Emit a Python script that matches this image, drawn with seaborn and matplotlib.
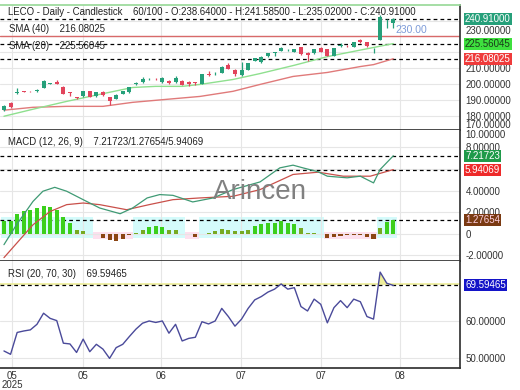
import matplotlib
matplotlib.use("Agg")
import matplotlib.pyplot as plt
import matplotlib.transforms as mtransforms
import seaborn as sns
import numpy as np


# --- price candles (60 daily bars) ---
opens = [184.0, 188.2, 194.5, 195.8, 195.5, 195.6, 197.7, 200.5, 201.7, 198.7,
         195.2, 191.8, 192.6, 195.6, 192.6, 195.0, 192.2, 191.0, 194.0, 195.0,
         200.5, 201.3, 203.1, 203.4, 201.3, 202.1, 201.3, 202.3, 201.7, 201.5,
         200.3, 206.8, 207.0, 207.2, 212.4, 209.2, 205.8, 209.2, 214.8, 213.8,
         217.5, 219.8, 220.9, 221.4, 220.5, 223.3, 219.9, 219.5, 222.5, 221.9,
         217.9, 224.2, 224.3, 223.5, 228.0, 226.4, 222.1, 228.0, 239.5, 238.64]
highs = [187.0, 188.8, 198.0, 196.0, 195.8, 197.0, 202.8, 201.2, 202.7, 199.0,
         195.4, 192.0, 196.2, 195.8, 195.4, 196.0, 192.4, 194.0, 196.0, 198.6,
         201.8, 204.4, 204.0, 204.0, 204.4, 202.6, 205.2, 202.6, 202.0, 201.8,
         206.8, 208.5, 208.0, 211.5, 213.6, 209.4, 213.8, 213.5, 216.8, 217.6,
         219.8, 220.0, 223.2, 222.2, 222.2, 223.6, 220.2, 222.2, 223.3, 222.2,
         222.8, 225.8, 224.6, 226.7, 228.4, 226.7, 222.5, 243.5, 240.8, 241.585]
lows = [183.5, 185.2, 194.0, 195.2, 195.0, 195.4, 197.5, 200.2, 200.0, 193.8,
        192.6, 191.2, 192.4, 191.9, 192.4, 193.0, 187.2, 190.6, 193.8, 194.8,
        199.8, 201.0, 202.5, 202.8, 201.0, 200.5, 201.0, 199.5, 199.2, 199.5,
        200.0, 205.0, 206.2, 207.0, 209.5, 205.2, 205.5, 209.0, 214.5, 213.5,
        217.2, 217.5, 220.7, 221.0, 220.3, 218.7, 214.8, 219.3, 220.3, 217.7,
        217.7, 223.5, 223.6, 223.3, 226.2, 223.7, 219.9, 228.0, 235.2, 235.02]
closes = [186.5, 185.6, 195.0, 195.4, 195.2, 196.7, 202.3, 200.9, 200.3, 194.0,
          194.8, 191.5, 195.6, 192.2, 195.0, 193.3, 189.6, 193.6, 195.6, 198.3,
          200.8, 203.2, 203.4, 203.2, 203.8, 200.8, 203.8, 199.7, 200.1, 200.6,
          206.4, 205.8, 207.3, 211.2, 209.8, 206.4, 209.2, 213.2, 216.5, 217.3,
          219.5, 219.9, 222.9, 221.7, 221.9, 218.9, 218.5, 221.9, 220.5, 217.9,
          222.5, 224.8, 223.9, 226.4, 226.4, 224.0, 222.3, 242.0, 239.9, 240.91]

# moving averages, read at a few bar positions
sma20_x = [0, 4.4, 9.5, 14.5, 19.5, 23, 27, 29.7, 34.7, 38.8, 44, 49, 54, 59]
sma20_y = [180.1, 184.5, 189.4, 193.8, 198.1, 198.8, 198.8, 200.0, 203.1, 206.8,
           212.0, 217.4, 221.5, 225.56045]
sma40_x = [0, 4.4, 9.5, 15, 19.5, 24.7, 29.7, 34.7, 38.8, 43.8, 49, 54, 56, 59]
sma40_y = [183.9, 185.7, 186.3, 186.3, 188.8, 190.7, 192.5, 195.7, 200.0, 205.0,
           207.5, 211.2, 212.4, 216.08025]

# MACD
macd_x = [0, 1.9, 4.4, 5.9, 7.7, 9.5, 12, 14.5, 17.6, 19.5, 21.7, 23.6, 25.6,
          28.6, 31.7, 34.7, 38.8, 41.8, 43.8, 45.3, 47.6, 49, 52, 54, 56, 57, 59]
macd_y = [-1.0, 0.84, 3.0, 3.94, 4.3, 3.94, 3.16, 2.39, 1.86, 2.39, 3.32, 3.63, 3.56,
          2.95, 3.32, 4.09, 4.8, 6.1, 6.35, 6.1, 5.74, 5.33, 5.18, 5.33, 4.71, 5.95, 7.21723]
signal_x = [0, 4.4, 7, 9.5, 12, 14.5, 18.6, 22, 25.6, 29.7, 34.7, 38.8, 43.8,
            47.6, 51.4, 55.5, 59]
signal_y = [-2.2, 0.84, 2.07, 2.7, 2.85, 2.7, 2.23, 2.7, 3.16, 3.32, 3.47, 4.09, 5.49,
            5.7, 5.33, 5.33, 5.94069]
hist = [1.21, 1.21, 1.86, 2.08, 2.23, 2.39, 2.54, 2.48, 2.23, 1.52,
        0.99, 0.37, 0.28, 0.02, -0.05, -0.34, -0.56, -0.62, -0.50, -0.15,
        0.12, 0.37, 0.62, 0.68, 0.62, 0.34, 0.31, 0.03, -0.03, -0.25,
        0.02, 0.06, 0.22, 0.43, 0.37, 0.25, 0.25, 0.37, 0.68, 0.90,
        0.99, 0.99, 1.15, 0.99, 0.87, 0.53, 0.12, 0.06, 0.00, -0.34,
        -0.25, -0.19, -0.15, -0.12, -0.12, -0.25, -0.50, 0.53, 1.09, 1.27654]

# RSI (20)
rsi = [51.9, 51.0, 56.9, 57.3, 57.6, 59.1, 62.1, 60.7, 60.1, 54.0,
       53.8, 51.5, 55.1, 51.7, 53.7, 52.4, 49.9, 52.8, 53.7, 55.8,
       57.8, 59.4, 60.0, 59.6, 60.0, 56.7, 59.1, 54.6, 55.3, 55.6,
       59.8, 59.2, 60.0, 63.4, 61.2, 58.6, 60.5, 63.4, 65.7, 66.6,
       67.8, 68.6, 70.0, 68.6, 69.0, 63.9, 62.7, 65.9, 64.5, 59.5,
       63.6, 65.5, 63.6, 65.9, 65.2, 61.2, 60.5, 73.2, 70.2, 69.59465]

tick_pos = [1.2, 12, 23.8, 35.9, 48, 60]
tick_lab = ["05\n2025", "05", "06", "07", "07", "08"]

price_ticks = [180, 190, 200, 210, 220, 230, 240]
price_labels = ["180.00000", "190.00000", "200.00000", "210.00000", "", "230.00000", ""]
macd_ticks = [-2, 0, 2, 4, 6, 8]
macd_labels = ["-2.00000", "0", "2.00000", "4.00000", "", "8.00000"]
rsi_ticks = [50, 60, 70]
rsi_labels = ["50.00000", "60.00000", ""]

sns.set_theme(style="white")
plt.rcParams['font.family'] = ['Liberation Sans', 'DejaVu Sans']

W, H = 520, 390
fig = plt.figure(figsize=(5.2, 3.9), dpi=100)


def axes_px(top, bottom):
    return fig.add_axes([0, 1 - bottom / H, 460 / W, (bottom - top) / H])


ax1 = axes_px(5, 130)
ax2 = axes_px(130, 261)
ax3 = axes_px(261, 368)

UP, DOWN = "#26a07a", "#e2445c"
GRID = "#e6e6e6"
TXT = "#333333"
xs = np.arange(len(closes))

for ax in (ax1, ax2, ax3):
    ax.set_xlim(-0.6, 69.1)
    ax.set_xticks(tick_pos)
    ax.grid(True, color=GRID, lw=0.8)
    ax.set_axisbelow(True)
    ax.yaxis.tick_right()
    ax.tick_params(axis='y', length=0, pad=4, labelsize=7, labelcolor=TXT)
    ax.tick_params(axis='x', length=0, pad=2, labelsize=7, labelcolor=TXT)
    for s in ("left", "top"):
        ax.spines[s].set_visible(False)
    ax.spines["right"].set_color(TXT)
    ax.spines["bottom"].set_color(TXT)
    ax.set_facecolor("white")

ax1.set_xticklabels([])
ax2.set_xticklabels([])
ax3.set_xticklabels(tick_lab)
for lab in ax3.get_xticklabels():
    lab.set_linespacing(0.85)


def edge_label(ax, ypos, s, va):
    ax.text(1.0 + 5 / 460, ypos, s, transform=ax.transAxes, fontsize=7,
            color=TXT, ha="left", va=va, clip_on=False)


# ---------- price panel ----------
ax1.set_ylim(171.5, 249.7)
ax1.set_yticks(price_ticks)
ax1.set_yticklabels(price_labels)
ax1.get_yticklabels()[5].set_va("bottom")
ax1.spines["top"].set_visible(True)
ax1.spines["top"].set_color("#9ad99a")
edge_label(ax1, 0.0, "170.00000", "bottom")

ax1.axhline(230, color="#d86a6a", lw=1, zorder=2)
for lv in (240.91, 225.56045, 216.08025):
    ax1.axhline(lv, color="black", lw=0.9, ls=(0, (3, 2.5)), zorder=2)

sns.lineplot(x=sma40_x, y=sma40_y, ax=ax1, color="#e07a7a", lw=1, zorder=3)
sns.lineplot(x=sma20_x, y=sma20_y, ax=ax1, color="#8fe08f", lw=1, zorder=3)

for i in xs:
    o, h, l, c = opens[i], highs[i], lows[i], closes[i]
    col = UP if c >= o else DOWN
    ax1.vlines(i, l, h, color=col, lw=0.9, zorder=4)
    body = max(abs(c - o), 0.35)
    ax1.bar(i, body, bottom=min(o, c), width=0.62, color=col, zorder=5, lw=0)

ax1.text(59.3, 234.2, "230.00", color="#7d9bd8", fontsize=7.5, va="center", ha="left")

# ---------- MACD panel ----------
ax2.set_ylim(-2.51, 9.6)
ax2.set_yticks(macd_ticks)
ax2.set_yticklabels(macd_labels)
edge_label(ax2, 1.0, "10.00000", "top")

hist = np.array(hist)
sign = np.sign(hist)
sign[sign == 0] = 1
start = 0
for k in range(1, len(hist) + 1):
    if k == len(hist) or sign[k] != sign[start]:
        if sign[start] > 0:
            ax2.fill_between([start - 0.5, k - 0.5], -0.35, 1.6, color="#d4fbfb", lw=0, zorder=0.5)
        else:
            ax2.fill_between([start - 0.5, k - 0.5], -0.5, 0.2, color="#fde0ee", lw=0, zorder=0.5)
        start = k

bar_cols = ["#3ccf1c" if v >= 0.6 else ("#77aa22" if v >= 0 else "#8b4513") for v in hist]
ax2.bar(xs, hist, width=0.62, color=bar_cols, zorder=3, lw=0)

for lv in (7.21723, 5.94069, 1.27654):
    ax2.axhline(lv, color="black", lw=0.9, ls=(0, (3, 2.5)), zorder=2)

sns.lineplot(x=signal_x, y=signal_y, ax=ax2, color="#c9504a", lw=0.9, zorder=4)
sns.lineplot(x=macd_x, y=macd_y, ax=ax2, color="#3f9a74", lw=0.9, zorder=4)

ax2.text(0.565, 0.525, "Arincen", transform=ax2.transAxes, fontsize=20, color="#808080",
         ha="center", va="center", zorder=6)

# ---------- RSI panel ----------
ax3.set_ylim(47.3, 76.2)
ax3.set_yticks(rsi_ticks)
ax3.set_yticklabels(rsi_labels)
rsi_arr = np.array(rsi)
ax3.axhline(70, color="#eeee99", lw=1.2, zorder=2)
ax3.fill_between(xs, 70, rsi_arr, where=rsi_arr >= 70, interpolate=True,
                 color="#eeee99", lw=0, zorder=2)
ax3.axhline(69.59465, color="black", lw=0.9, ls=(0, (3, 2.5)), zorder=3)
sns.lineplot(x=xs, y=rsi_arr, ax=ax3, color="#4a4a9a", lw=1, zorder=4)

for ax in (ax1, ax2, ax3):
    ax.set_xlabel("")
    ax.set_ylabel("")


# ---------- right-side value tags ----------
def tag(ax, val, text, fc, tc):
    tr = mtransforms.blended_transform_factory(ax.transAxes, ax.transData)
    ax.text(1.0 + 5 / 460, val, text, transform=tr, fontsize=7, color=tc, ha="left",
            va="center", clip_on=False, zorder=10,
            bbox=dict(boxstyle="square,pad=0.1", fc=fc, ec="none"))


tag(ax1, 240.91, "240.91000", "#26a07a", "white")
tag(ax1, 225.56045, "225.56045", "#3ee03e", "#1a3a1a")
tag(ax1, 216.08025, "216.08025", "#ef3b3b", "white")
tag(ax2, 7.21723, "7.21723", "#1f9a4a", "white")
tag(ax2, 5.94069, "5.94069", "#ee2a2a", "white")
tag(ax2, 1.27654, "1.27654", "#7a3a12", "#ffd0e0")
tag(ax3, 69.59465, "69.59465", "#1414c8", "white")


# ---------- header texts ----------
def label(x, y, s):
    fig.text(x / W, 1 - y / H, s, fontsize=6.9, color="#222222", ha="left", va="center")


label(8, 12, "LECO - Daily - Candlestick    60/100 - O:238.64000 - H:241.58500 - L:235.02000 - C:240.91000")
label(9, 29, "SMA (40)    216.08025")
label(9, 46, "SMA (20)    225.56045")
label(8, 142, "MACD (12, 26, 9)    7.21723/1.27654/5.94069")
label(8, 274, "RSI (20, 70, 30)    69.59465")

fig.savefig("out.png", dpi=100)
